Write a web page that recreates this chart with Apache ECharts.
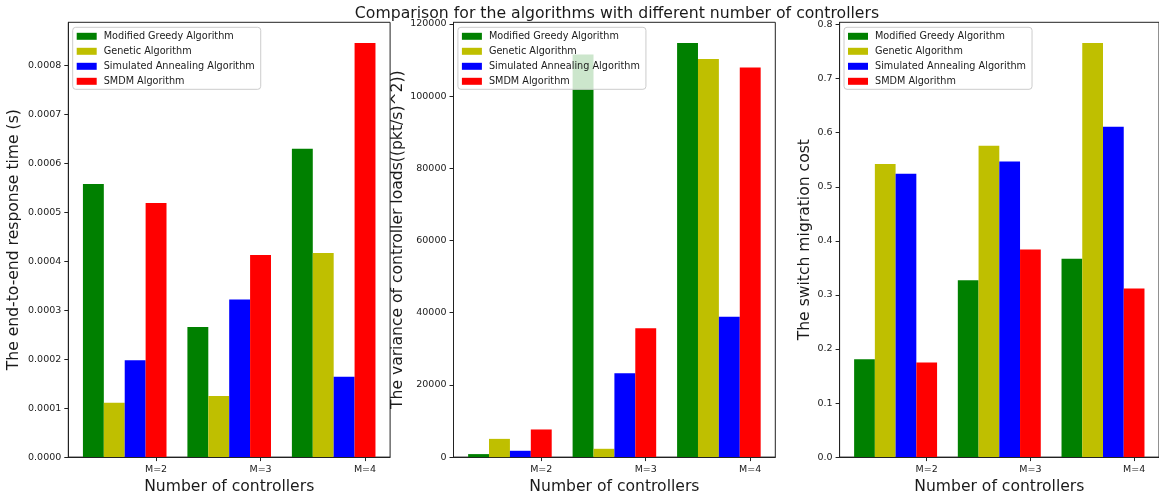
<!DOCTYPE html>
<html>
<head>
<meta charset="utf-8">
<script src="https://cdn.jsdelivr.net/npm/echarts@6/dist/echarts.min.js"></script>
<style>
  html, body { margin: 0; padding: 0; background: #ffffff; }
  #chart { width: 1159px; height: 500px; }
</style>
</head>
<body>
<div id="chart"></div>
<script>
// Groups along the x axis
const categories = ['M=2', 'M=3', 'M=4'];
const algorithms = ['Modified Greedy Algorithm', 'Genetic Algorithm', 'Simulated Annealing Algorithm', 'SMDM Algorithm'];
const colors = ['#008000', '#bfbf00', '#0000ff', '#ff0000'];

// End-to-end response time (s)
const responseGreedy    = [0.000558, 0.000266, 0.000630];
const responseGenetic   = [0.000111, 0.000125, 0.000417];
const responseAnnealing = [0.000198, 0.000322, 0.000164];
const responseSMDM      = [0.000519, 0.000413, 0.000846];

// Variance of controller loads ((pkt/s)^2)
const varianceGreedy    = [830, 111500, 114700];
const varianceGenetic   = [5050, 2300, 110300];
const varianceAnnealing = [1750, 23200, 38900];
const varianceSMDM      = [7650, 35700, 107900];

// Switch migration cost
const migrationGreedy    = [0.181, 0.327, 0.367];
const migrationGenetic   = [0.542, 0.576, 0.766];
const migrationAnnealing = [0.524, 0.547, 0.611];
const migrationSMDM      = [0.175, 0.384, 0.312];

// Tick labels of the three value axes
const responseTicks  = [0, 0.0001, 0.0002, 0.0003, 0.0004, 0.0005, 0.0006, 0.0007, 0.0008];
const varianceTicks  = [0, 20000, 40000, 60000, 80000, 100000, 120000];
const migrationTicks = [0, 0.1, 0.2, 0.3, 0.4, 0.5, 0.6, 0.7, 0.8];

const panels = [
  { name: 'The end-to-end response time (s)', series: [responseGreedy, responseGenetic, responseAnnealing, responseSMDM],
    ticks: responseTicks, digits: 4, left: 68.3, nameGap: 46 },
  { name: 'The variance of controller loads((pkt/s)^2))', series: [varianceGreedy, varianceGenetic, varianceAnnealing, varianceSMDM],
    ticks: varianceTicks, digits: 0, left: 453.5, nameGap: 47 },
  { name: 'The switch migration cost', series: [migrationGreedy, migrationGenetic, migrationAnnealing, migrationSMDM],
    ticks: migrationTicks, digits: 1, left: 839.6, nameGap: 26.5 }
];

const BAR_WIDTH = 0.2;          // bar width in x-axis units
const LABEL_OFFSET = 0.6;       // group tick sits under the last bar
const X_MIN = -0.24, X_MAX = 2.84;
const FONT = 'DejaVu Sans';
const INK = '#1a1a1a';

const xTickValues = categories.map((c, i) => i + LABEL_OFFSET);

function renderBar(params, api) {
  const x = api.value(0), y = api.value(1);
  const p0 = api.coord([x - BAR_WIDTH / 2, y]);
  const p1 = api.coord([x + BAR_WIDTH / 2, 0]);
  return {
    type: 'rect',
    shape: { x: p0[0], y: p0[1], width: p1[0] - p0[0], height: p1[1] - p0[1] },
    style: { fill: api.visual('color') }
  };
}

const grids = [], xAxes = [], yAxes = [], legends = [], series = [];

panels.forEach((p, k) => {
  grids.push({ left: p.left, width: 321.8, top: 22.3, height: 435, show: true,
               borderColor: '#222', borderWidth: 1, backgroundColor: 'transparent' });

  xAxes.push({
    gridIndex: k, type: 'value', min: X_MIN, max: X_MAX,
    name: 'Number of controllers', nameLocation: 'middle', nameGap: 18,
    nameTextStyle: { fontFamily: FONT, fontSize: 15.6, color: INK },
    axisLine: { show: true, onZero: false, lineStyle: { color: '#222', width: 1 } },
    axisTick: { show: true, length: 4, customValues: xTickValues, lineStyle: { color: '#222' } },
    axisLabel: { customValues: xTickValues, margin: 7, fontFamily: FONT, fontSize: 9.5, color: INK,
                 formatter: v => categories[Math.round(v - LABEL_OFFSET)] },
    splitLine: { show: false }
  });

  const maxVal = Math.max(...p.series.flat());
  yAxes.push({
    gridIndex: k, type: 'value', min: 0, max: maxVal * 1.05,
    name: p.name, nameLocation: 'middle', nameRotate: 90, nameGap: p.nameGap,
    nameTextStyle: { fontFamily: FONT, fontSize: 15.6, color: INK },
    axisLine: { show: true, onZero: false, lineStyle: { color: '#222', width: 1 } },
    axisTick: { show: true, length: 4, customValues: p.ticks, lineStyle: { color: '#222' } },
    axisLabel: { customValues: p.ticks, margin: 7, fontFamily: FONT, fontSize: 9.5, color: INK,
                 formatter: v => v.toFixed(p.digits) },
    splitLine: { show: false }
  });

  legends.push({
    left: p.left + 4.4, top: 27.3, orient: 'vertical',
    data: algorithms.map((n, i) => ({ name: n, icon: 'rect', itemStyle: { color: colors[i] } })),
    itemWidth: 20, itemHeight: 7, itemGap: 3,
    padding: [3, 6, 2, 4],
    backgroundColor: 'rgba(255,255,255,0.8)', borderColor: '#cccccc', borderWidth: 1, borderRadius: 3,
    textStyle: { fontFamily: FONT, fontSize: 9.7, color: INK, lineHeight: 12, padding: [0, 0, 0, 2] },
    selectedMode: false
  });

  p.series.forEach((vals, s) => {
    series.push({
      type: 'custom', name: algorithms[s], xAxisIndex: k, yAxisIndex: k,
      itemStyle: { color: colors[s] },
      renderItem: renderBar,
      encode: { x: 0, y: 1 },
      data: vals.map((v, i) => [i + s * BAR_WIDTH, v])
    });
  });
});

const chart = echarts.init(document.getElementById('chart'), null, { renderer: 'canvas' });
chart.setOption({
  animation: false,
  backgroundColor: '#ffffff',
  title: {
    text: 'Comparison for the algorithms with different number of controllers',
    left: 612, top: 1, textAlign: 'center',
    textStyle: { fontFamily: FONT, fontSize: 15.7, fontWeight: 'normal', color: INK }
  },
  grid: grids,
  xAxis: xAxes,
  yAxis: yAxes,
  legend: legends,
  series: series
});
</script>
</body>
</html>
